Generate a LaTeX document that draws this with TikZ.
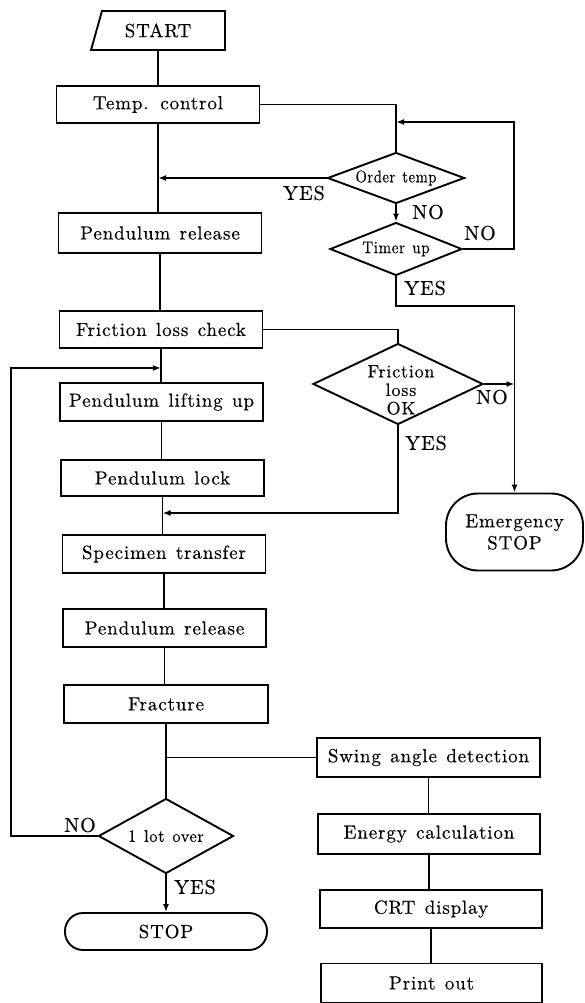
\documentclass[tikz,border=0pt]{standalone}
\usepackage{fontspec}
\usepackage{graphicx}
\setmainfont{lmroman10-regular}[Extension=.otf,LetterSpace=4.5,WordSpace=1.3,FakeBold=0.3]
\usetikzlibrary{shapes.geometric,arrows.meta}
\begin{document}
\begin{tikzpicture}[x=1pt,y=-1pt,
  line width=1.6pt,
  box/.style={draw,line width=1.9pt,inner sep=0pt,minimum width=203pt,minimum height=38pt,font=\fontsize{19}{21}\selectfont},
  dec/.style={draw,diamond,line width=1.9pt,inner sep=0pt,font=\fontsize{17}{19}\selectfont},
  term/.style={draw,line width=1.9pt,inner sep=0pt,align=center,font=\fontsize{19}{22}\selectfont},
  lbl/.style={inner sep=0pt,font=\fontsize{20}{22}\selectfont},
  arr/.style={-{Latex[length=8pt,width=6pt]}}]
\useasboundingbox (0,0) rectangle (584,1003);
% START
\draw[line width=1.9pt] (102,11) -- (225,11) -- (225,50) -- (91,50) -- cycle;
\node[inner sep=0pt,minimum width=120pt,minimum height=39pt,font=\fontsize{19}{21}\selectfont] (start) at (158,30.5) {START};
% left column
\node[box,minimum height=37pt] (temp) at (158,104.5) {Temp. control};
\node[box,minimum height=40pt] (pr1) at (160,233) {Pendulum release};
\node[box,minimum height=37pt] (flc) at (161,329.5) {Friction loss check};
\node[box] (plu) at (161.5,402) {Pendulum lifting up};
\node[box,minimum height=36pt] (plock) at (162.5,478) {Pendulum lock};
\node[box] (spec) at (164,554) {Specimen transfer};
\node[box] (pr2) at (164.5,628) {Pendulum release};
\node[box,minimum width=204pt] (frac) at (166,704) {Fracture};
\node[dec,aspect=1.8,minimum width=135pt,minimum height=75pt] (lot) at (166,836) {\scalebox{0.95}[1]{1 lot over}};
\node[term,minimum width=202pt,minimum height=37pt,rounded corners=18pt] (stop) at (166,931.5) {STOP};
% right column
\node[dec,aspect=2.7,minimum width=137pt,minimum height=51pt] (order) at (396,178) {\scalebox{0.85}[1]{Order temp}};
\node[dec,aspect=2.5,minimum width=132pt,minimum height=53pt] (timer) at (396,249) {\scalebox{0.88}[1]{Timer up}};
\node[dec,aspect=2.1,minimum width=170pt,minimum height=81pt] (fric) at (398,384) {};
\node[align=center,inner sep=0pt,font=\fontsize{18}{18.5}\selectfont] (frictxt) at (401,390) {Friction\\loss\\OK};
\node[term,minimum width=137pt,minimum height=77pt,rounded corners=32pt] (emerg) at (514.5,532) {Emergency\\STOP};
\node[box,minimum width=223pt,minimum height=39pt] (swing) at (428.5,757.5) {Swing angle detection};
\node[box,minimum width=222pt,minimum height=40pt] (energy) at (429,834) {Energy calculation};
\node[box,minimum width=222pt] (crt) at (431,909) {CRT display};
\node[box,minimum width=221pt,minimum height=39pt] (print) at (431.5,983) {Print out};
% coordinates
\coordinate (loopTR) at (514,122);
\coordinate (ty) at (514.5,306);
\coordinate (fy) at (0,513);
\coordinate (lp) at (11,368);
% connectors
\draw (start.south) -- (start.south |- temp.north);
\draw (temp.south) -- (temp.south |- pr1.north);
\draw (temp.east) -| (order.north);
\draw[arr] (order.west) -- (order.west -| temp.south);
\draw[arr] (order.south) -- (timer.north);
\draw[arr] (timer.east) -| (loopTR) -- (loopTR -| order.north);
\draw[arr] (timer.south) |- (ty) -- (emerg.north);
\draw (pr1.south) -- (pr1.south |- flc.north);
\draw (flc.south) -- (flc.south |- plu.north);
\draw (flc.east) -| (fric.north);
\draw[arr] (fric.east) -- (fric.east -| emerg.north);
\draw[arr] (fric.south) |- (fy -| plock.south);
\draw (plu.south) -- (plu.south |- plock.north);
\draw (plock.south) -- (plock.south |- spec.north);
\draw (spec.south) -- (spec.south |- pr2.north);
\draw (pr2.south) -- (pr2.south |- frac.north);
\draw (frac.south) -- (lot.north);
\draw (swing.west) -- (swing.west -| frac.south);
\draw (swing.south) -- (swing.south |- energy.north);
\draw (energy.south) -- (energy.south |- crt.north);
\draw (crt.south) -- (crt.south |- print.north);
\draw[arr] (lot.west) -| (lp) -- (lp -| flc.south);
\draw[arr] (lot.south) -- (stop.north);
% labels
\node[lbl] (l1) at (304,193) {YES};
\node[lbl] (l2) at (428,212) {NO};
\node[lbl] (l3) at (480,233) {NO};
\node[lbl] (l4) at (425,288) {YES};
\node[lbl] (l5) at (492,397) {NO};
\node[lbl] (l6) at (426,443) {YES};
\node[lbl] (l7) at (80,825) {NO};
\node[lbl] (l8) at (195,887) {YES};
\end{tikzpicture}
\end{document}
